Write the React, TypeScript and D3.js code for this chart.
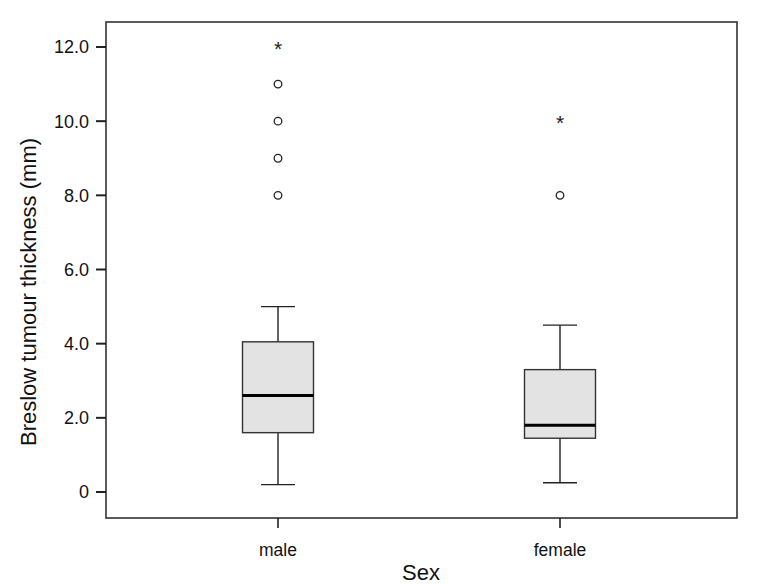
import React from "react";
import * as d3 from "d3";

const categories = ["male", "female"];
const q1 = [1.6, 1.45];
const median = [2.6, 1.8];
const q3 = [4.05, 3.3];
const whiskerLow = [0.2, 0.25];
const whiskerHigh = [5.0, 4.5];
const outliersCircle = [[8, 9, 10, 11], [8]];
const outliersStar = [[12], [10]];
const yTicks = [0, 2, 4, 6, 8, 10, 12];

const W = 761, H = 584;
const left = 106, right = 737, top = 22, bottom = 518;

export default function App() {
  const y = d3.scaleLinear().domain([0, 12]).range([492, 47]);
  const x = d3.scalePoint<string>().domain(categories).range([278, 560]);
  const boxW = 71;
  const capW = 34;
  const fontLab = "'Liberation Sans', Arial, sans-serif";
  const fmt = (v: number) => (v === 0 ? "0" : d3.format(".1f")(v));
  return (
    <svg width={W} height={H} style={{ position: "absolute", left: 0, top: 0, background: "#fff" }}>
      <rect x={0} y={0} width={W} height={H} fill="#fff" />
      <rect x={left} y={top} width={right - left} height={bottom - top} fill="none" stroke="#333" strokeWidth={1.6} />
      {yTicks.map((t) => (
        <g key={t}>
          <line x1={96} x2={left} y1={y(t)} y2={y(t)} stroke="#222" strokeWidth={2} />
          <text x={89} y={y(t)} dy="0.36em" textAnchor="end" fontFamily={fontLab} fontSize={18} fill="#111">
            {fmt(t)}
          </text>
        </g>
      ))}
      {categories.map((c, i) => {
        const cx = x(c)!;
        return (
          <g key={c}>
            <line x1={cx} x2={cx} y1={bottom} y2={bottom + 10} stroke="#222" strokeWidth={1.6} />
            <text x={cx} y={556} textAnchor="middle" fontFamily={fontLab} fontSize={17.5} fill="#111">{c}</text>
            <line x1={cx} x2={cx} y1={y(whiskerHigh[i])} y2={y(q3[i])} stroke="#222" strokeWidth={1.4} />
            <line x1={cx} x2={cx} y1={y(q1[i])} y2={y(whiskerLow[i])} stroke="#222" strokeWidth={1.4} />
            <line x1={cx - capW / 2} x2={cx + capW / 2} y1={y(whiskerHigh[i])} y2={y(whiskerHigh[i])} stroke="#222" strokeWidth={1.4} />
            <line x1={cx - capW / 2} x2={cx + capW / 2} y1={y(whiskerLow[i])} y2={y(whiskerLow[i])} stroke="#222" strokeWidth={1.4} />
            <rect x={cx - boxW / 2} y={y(q3[i])} width={boxW} height={y(q1[i]) - y(q3[i])} fill="#e3e3e3" stroke="#333" strokeWidth={1.4} />
            <line x1={cx - boxW / 2} x2={cx + boxW / 2} y1={y(median[i])} y2={y(median[i])} stroke="#000" strokeWidth={3} />
            {outliersCircle[i].map((v, j) => (
              <circle key={"c" + j} cx={cx} cy={y(v)} r={3.8} fill="#fff" stroke="#222" strokeWidth={1.3} />
            ))}
            {outliersStar[i].map((v, j) => (
              <text key={"s" + j} x={cx} y={y(v) + 9} textAnchor="middle" fontFamily={fontLab} fontSize={21} fill="#222">*</text>
            ))}
          </g>
        );
      })}
      <text x={421} y={580} textAnchor="middle" fontFamily={fontLab} fontSize={22} fill="#111">Sex</text>
      <text transform={`translate(36, ${292}) rotate(-90)`} textAnchor="middle" fontFamily={fontLab} fontSize={22} fill="#111">
        Breslow tumour thickness (mm)
      </text>
    </svg>
  );
}
